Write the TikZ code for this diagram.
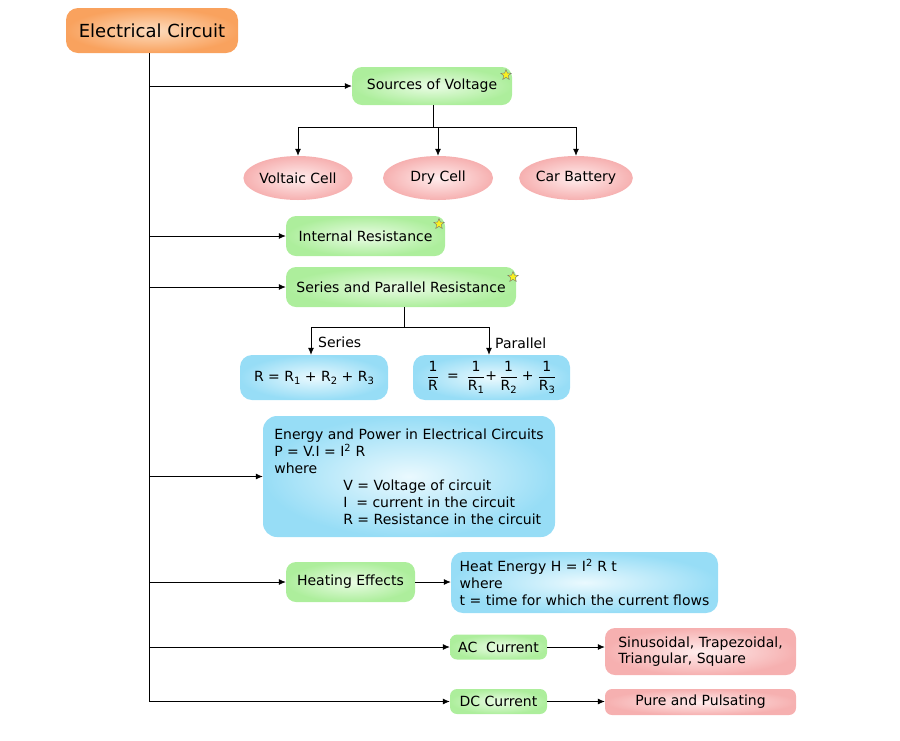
\documentclass[tikz,border=0pt]{standalone}
\usepackage{amsmath}
\usepackage{fontspec}
\setmainfont{DejaVu Sans}
\usetikzlibrary{shapes.geometric,arrows.meta}
\definecolor{orgout}{HTML}{F9A25E}
\definecolor{orgin}{HTML}{FDDCBE}
\definecolor{grnout}{HTML}{ADEE9C}
\definecolor{grnin}{HTML}{EAFCE5}
\definecolor{pnkout}{HTML}{F6B0B0}
\definecolor{pnkin}{HTML}{FFEDED}
\definecolor{bluout}{HTML}{97DDF6}
\definecolor{bluin}{HTML}{EAF9FE}
\definecolor{staryel}{HTML}{F8F020}
\newcommand{\sbs}[1]{\raisebox{-3pt}{\fontsize{10}{10}\selectfont #1}}
\tikzset{
  base/.style={inner sep=0pt, font=\fontsize{14}{17}\selectfont, text=black},
  titlebox/.style={base, rounded corners=12pt, inner color=orgin, outer color=orgout, font=\fontsize{18}{20}\selectfont},
  gbox/.style={base, rounded corners=10pt, inner color=grnin, outer color=grnout},
  pell/.style={base, ellipse, inner color=pnkin, outer color=pnkout},
  pbox/.style={base, rounded corners=10pt, inner color=pnkin, outer color=pnkout},
  bbox/.style={base, rounded corners=12pt, inner color=bluin, outer color=bluout},
  conn/.style={line width=0.8pt, draw=black},
  arr/.style={conn, -{Latex[length=7pt,width=6pt]}},
  lbl/.style={base, anchor=west},
  starmark/.style={star, star points=5, star point ratio=2.3, minimum size=11pt, inner sep=0pt, fill=staryel, draw=black!55, line width=0.4pt}
}
\begin{document}
\begin{tikzpicture}[x=1pt,y=-1pt]
\useasboundingbox (0,0) rectangle (900,740);
% title
\node[titlebox, minimum width=172pt, minimum height=45pt] (title) at (152,30.5) {Electrical Circuit};
\coordinate (trunk) at (149,0);
% level nodes
\node[gbox, minimum width=160pt, minimum height=38pt] (src) at (432,86) {Sources of Voltage};
\node[pell, minimum width=108pt, minimum height=44pt] (volt) at (298,178) {Voltaic Cell};
\node[pell, minimum width=110pt, minimum height=44pt] (dry) at (438,178) {Dry Cell};
\node[pell, minimum width=110pt, minimum height=44pt] (car) at (576,178) {Car Battery};
\node[gbox, minimum width=159pt, minimum height=40pt] (intr) at (365.5,236) {Internal Resistance};
\node[gbox, minimum width=230pt, minimum height=40pt] (sp) at (401,287) {Series and Parallel Resistance};
\node[bbox, minimum width=148pt, minimum height=45pt] (ser) at (314,377.5) {R = R\sbs{1} + R\sbs{2} + R\sbs{3}};
\node[bbox, minimum width=157pt, minimum height=45pt] (par) at (491.5,377.5)
  {$\dfrac{\text{1}}{\text{R}}\;\;\text{=}\;\;\dfrac{\text{1}}{\text{R\sbs{1}}}\text{+}\,\dfrac{\text{1}}{\text{R\sbs{2}}}\;\text{+}\;\dfrac{\text{1}}{\text{R\sbs{3}}}$};
\node[bbox, minimum width=292pt, minimum height=121pt, align=left, rounded corners=14pt] (enp) at (409,476.5)
  {Energy and Power in Electrical Circuits\\
   P = V.I = I\textsuperscript{2} R\\
   where\\
   \hspace*{69pt}V = Voltage of circuit\\
   \hspace*{69pt}I\ \ = current in the circuit\\
   \hspace*{69pt}R = Resistance in the circuit};
\node[gbox, minimum width=129pt, minimum height=40pt] (heat) at (350.5,582) {Heating Effects};
\node[bbox, minimum width=267pt, minimum height=61pt, align=left] (he) at (584.5,582.5)
  {Heat Energy H = I\textsuperscript{2} R t\\
   where\\
   t = time for which the current flows};
\node[gbox, minimum width=97pt, minimum height=25pt, rounded corners=7pt] (ac) at (498.5,647) {AC\ \ Current};
\node[pbox, minimum width=191pt, minimum height=47pt, align=left, font=\fontsize{14}{16}\selectfont] (acw) at (700.5,651.5)
  {Sinusoidal, Trapezoidal,\\ Triangular, Square};
\node[gbox, minimum width=97pt, minimum height=25pt, rounded corners=7pt] (dc) at (498.5,701.5) {DC Current};
\node[pbox, minimum width=191pt, minimum height=26pt, rounded corners=7pt] (dcw) at (700.5,702) {Pure and Pulsating};
% stars
\node[starmark] (s1) at (506,75) {};
\node[starmark] (s2) at (439,224) {};
\node[starmark] (s3) at (513,277) {};
% trunk
\draw[conn] (title.south -| trunk) -- (trunk |- dc.west);
\draw[arr] (trunk |- src.west) -- (src.west);
\draw[arr] (trunk |- intr.west) -- (intr.west);
\draw[arr] (trunk |- sp.west) -- (sp.west);
\draw[arr] (trunk |- enp.west) -- (enp.west);
\draw[arr] (trunk |- heat.west) -- (heat.west);
\draw[arr] (trunk |- ac.west) -- (ac.west);
\draw[arr] (trunk |- dc.west) -- (dc.west);
% sources
\coordinate (sj) at (433,127);
\draw[conn] (src.south -| sj) -- (sj);
\draw[conn] (sj -| volt) -- (sj -| car);
\draw[arr] (sj -| volt) -- (volt.north);
\draw[arr] (sj -| dry) -- (dry.north);
\draw[arr] (sj -| car) -- (car.north);
% series / parallel
\coordinate (pj) at (404,327);
\coordinate (sx) at (311,0);
\coordinate (px) at (489,0);
\draw[conn] (sp.south -| pj) -- (pj);
\draw[conn] (pj -| sx) -- (pj -| px);
\draw[arr] (pj -| sx) -- (ser.north -| sx);
\draw[arr] (pj -| px) -- (par.north -| px);
\node[lbl] (serl) at (318,342) {Series};
\node[lbl] (parl) at (495,343) {Parallel};
% right arrows
\draw[arr] (heat.east) -- (heat.east -| he.west);
\draw[arr] (ac.east) -- (ac.east -| acw.west);
\draw[arr] (dc.east) -- (dc.east -| dcw.west);
\end{tikzpicture}
\end{document}
